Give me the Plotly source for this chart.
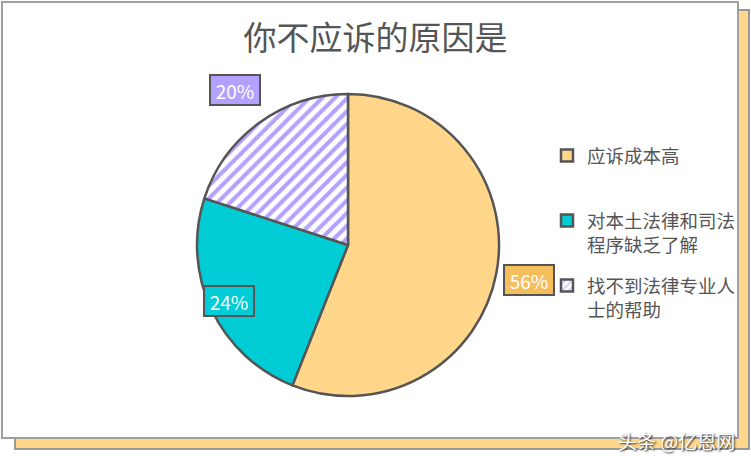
import math
import plotly.graph_objects as go

# 数据
labels = ["应诉成本高", "对本土法律和司法<br>程序缺乏了解", "找不到法律专业人<br>士的帮助"]
values = [56, 24, 20]
slice_colors = ["#FFD68A", "#00CCD6", "#FFFFFF"]
label_bg = ["#F5BE5C", "#00CCD6", "#B4A0FF"]
pattern_shapes = ["", "", "/"]

W, H = 751, 464
CX, CY, R = 348, 245, 151        # 饼图中心和半径 (像素)
LABEL_R = [1.22, 0.87, 1.27]     # 标签离中心的距离 (半径倍数)
LEGEND_Y = [153, 218, 283]       # 每个图例第一行的位置 (像素)
GRAY = "#555555"
FONT = "Noto Sans CJK SC"

fig = go.Figure()

fig.add_trace(go.Pie(
    labels=labels,
    values=values,
    sort=False,
    direction="clockwise",
    rotation=0,
    textinfo="none",
    hoverinfo="label+percent",
    showlegend=False,
    marker=dict(
        colors=slice_colors,
        line=dict(color=GRAY, width=2.5),
        pattern=dict(shape=pattern_shapes, fgcolor="#B4A0FF", size=9, solidity=0.45),
    ),
    domain=dict(x=[(CX - R) / W, (CX + R) / W],
                y=[(H - CY - R) / H, (H - CY + R) / H]),
))

# 图例 (用空柱子做, 每项一个图例框, 方便摆位置)
legend_cfg = {}
for i, lab in enumerate(labels):
    lname = "legend" if i == 0 else f"legend{i + 1}"
    fig.add_trace(go.Bar(
        x=[None], y=[None], name=lab, legend=lname,
        marker=dict(color=slice_colors[i], line=dict(color=GRAY, width=2.5),
                    pattern=dict(shape=pattern_shapes[i], fgcolor="#B4A0FF",
                                 size=6, solidity=0.45)),
    ))
    legend_cfg[lname] = dict(
        x=547 / W, y=1 - (LEGEND_Y[i] - 16) / H, xanchor="left", yanchor="top",
        font=dict(family=FONT, size=18.5, color=GRAY),
        valign="top", bgcolor="rgba(0,0,0,0)", itemclick=False,
    )

# 百分比标签
total = sum(values)
annotations = []
cum = 0
for i, v in enumerate(values):
    mid = (cum + v / 2) / total
    cum += v
    ang = math.radians(90 - mid * 360)
    px = CX + LABEL_R[i] * R * math.cos(ang)
    py = CY - LABEL_R[i] * R * math.sin(ang)
    annotations.append(dict(
        x=px / W, y=1 - py / H, xref="paper", yref="paper",
        xanchor="center", yanchor="middle",
        text=f"{round(v / total * 100)}%", showarrow=False,
        font=dict(family=FONT, size=19, color="white"),
        width=44, height=24,
        bgcolor=label_bg[i], bordercolor=GRAY, borderwidth=2, borderpad=2,
    ))

# 水印
annotations.append(dict(
    x=737 / W, y=1 - 440 / H, xref="paper", yref="paper",
    xanchor="right", yanchor="middle", showarrow=False,
    text="头条 @亿恩网",
    font=dict(family=FONT, size=19, color="white", shadow="1px 1px 2px #222"),
))

# 边框和阴影
shapes = [
    dict(type="rect", xref="paper", yref="paper", layer="below",
         x0=15 / W, x1=749 / W, y0=1 - 449 / H, y1=1 - 10 / H,
         fillcolor="#FFD68A", line=dict(color="#999999", width=2)),
    dict(type="rect", xref="paper", yref="paper", layer="below",
         x0=2 / W, x1=738 / W, y0=1 - 438 / H, y1=1 - 2 / H,
         fillcolor="white", line=dict(color="#A0A0A0", width=2)),
]

fig.update_layout(
    width=W, height=H,
    margin=dict(l=0, r=0, t=0, b=0),
    paper_bgcolor="white",
    plot_bgcolor="rgba(0,0,0,0)",
    title=dict(text="你不应诉的原因是", x=0.5, xanchor="center",
               y=1 - 38 / H, yanchor="middle",
               font=dict(family=FONT, size=33, color=GRAY)),
    xaxis=dict(visible=False),
    yaxis=dict(visible=False),
    annotations=annotations,
    shapes=shapes,
    **legend_cfg,
)

fig.write_html("out.html", config={"displayModeBar": False},
               post_script="document.body.style.margin='0';")
